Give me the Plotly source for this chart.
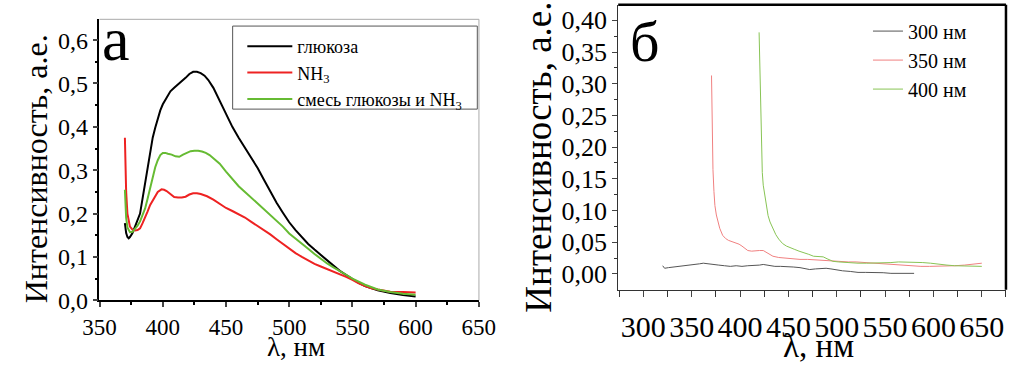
import plotly.graph_objects as go

# ---------- panel а: emission spectra ----------
wl_glucose = [370, 371, 372, 373, 374, 376, 378, 380, 382, 384, 386, 388, 390, 392, 394, 396, 398, 400,
              403, 406, 409, 412, 415, 418, 421, 424, 427, 430, 433, 436, 440, 445, 450, 455, 460, 465,
              470, 475, 480, 485, 490, 495, 500, 505, 510, 515, 520, 525, 530, 535, 540, 545, 550, 555,
              560, 570, 580, 590, 600]
int_glucose = [0.178, 0.155, 0.146, 0.143, 0.146, 0.155, 0.170, 0.185, 0.200, 0.235, 0.270, 0.310, 0.345,
               0.375, 0.398, 0.420, 0.438, 0.452, 0.468, 0.482, 0.490, 0.497, 0.505, 0.513, 0.522, 0.527,
               0.527, 0.524, 0.518, 0.508, 0.490, 0.460, 0.428, 0.400, 0.375, 0.352, 0.330, 0.305, 0.278,
               0.250, 0.225, 0.202, 0.180, 0.162, 0.145, 0.130, 0.117, 0.104, 0.092, 0.080, 0.068, 0.058,
               0.048, 0.040, 0.033, 0.023, 0.017, 0.012, 0.009]

wl_nh3 = [370, 371, 372, 373, 374, 376, 378, 380, 382, 384, 386, 388, 390, 393, 396, 399, 401, 403, 405,
          407, 409, 412, 415, 418, 421, 424, 427, 430, 435, 440, 445, 450, 455, 460, 465, 470, 475, 480,
          485, 490, 495, 500, 505, 510, 515, 520, 525, 530, 535, 540, 545, 550, 555, 560, 565, 570, 575,
          580, 590, 600]
int_nh3 = [0.375, 0.250, 0.200, 0.180, 0.170, 0.163, 0.161, 0.162, 0.166, 0.178, 0.190, 0.205, 0.220,
           0.236, 0.250, 0.256, 0.255, 0.252, 0.248, 0.243, 0.238, 0.237, 0.237, 0.239, 0.244, 0.247,
           0.247, 0.245, 0.240, 0.232, 0.222, 0.213, 0.206, 0.199, 0.191, 0.181, 0.172, 0.161, 0.152,
           0.141, 0.130, 0.119, 0.109, 0.100, 0.092, 0.084, 0.078, 0.072, 0.066, 0.061, 0.054, 0.047,
           0.039, 0.033, 0.028, 0.025, 0.022, 0.020, 0.019, 0.018]

wl_mix = [370, 371, 372, 373, 374, 376, 378, 380, 382, 384, 386, 388, 390, 392, 394, 396, 398, 400, 402,
          404, 407, 410, 413, 416, 419, 422, 425, 428, 431, 434, 437, 440, 445, 450, 455, 460, 465, 470,
          475, 480, 485, 490, 495, 500, 505, 510, 515, 520, 525, 530, 535, 540, 545, 550, 555, 560, 570,
          580, 590, 600]
int_mix = [0.255, 0.190, 0.168, 0.160, 0.157, 0.158, 0.164, 0.172, 0.182, 0.195, 0.212, 0.235, 0.260,
           0.285, 0.307, 0.323, 0.335, 0.340, 0.340, 0.338, 0.336, 0.332, 0.331, 0.336, 0.340, 0.344,
           0.345, 0.345, 0.343, 0.340, 0.335, 0.328, 0.315, 0.297, 0.280, 0.263, 0.250, 0.237, 0.224,
           0.211, 0.198, 0.184, 0.170, 0.154, 0.143, 0.131, 0.119, 0.107, 0.095, 0.085, 0.076, 0.068,
           0.059, 0.050, 0.043, 0.036, 0.025, 0.019, 0.015, 0.013]

# ---------- panel б: spectra at different excitation wavelengths ----------
wl_300 = [320, 322, 326, 332, 340, 346, 352, 358, 362, 366, 372, 378, 384, 390, 396, 402, 408, 414, 420,
          424, 430, 436, 442, 448, 455, 462, 468, 472, 478, 484, 489, 494, 500, 506, 514, 522, 530, 539,
          548, 556, 565, 572, 580]
int_300 = [0.013, 0.009, 0.010, 0.011, 0.012, 0.013, 0.015, 0.016, 0.017, 0.016, 0.015, 0.014, 0.013,
           0.012, 0.013, 0.012, 0.013, 0.013, 0.014, 0.015, 0.013, 0.012, 0.012, 0.011, 0.011, 0.010,
           0.008, 0.007, 0.008, 0.009, 0.009, 0.008, 0.006, 0.005, 0.004, 0.0025, 0.0025, 0.0025, 0.002,
           0.001, 0.001, 0.001, 0.001]

wl_350 = [370.5, 371, 371.5, 372, 373, 374, 375.5, 377, 379, 382, 385, 388, 392, 396, 399, 402, 405, 408,
          412, 416, 420, 424, 427, 430, 434, 440, 446, 455, 462, 470, 479, 487, 496, 504, 512, 520, 529,
          537, 546, 554, 562, 570, 579, 587, 596, 604, 612, 622, 632, 641, 650]
int_350 = [0.313, 0.260, 0.210, 0.165, 0.130, 0.108, 0.093, 0.082, 0.072, 0.061, 0.056, 0.053, 0.051,
           0.049, 0.047, 0.044, 0.040, 0.037, 0.036, 0.037, 0.037, 0.037, 0.034, 0.031, 0.028, 0.026,
           0.025, 0.024, 0.023, 0.023, 0.022, 0.021, 0.020, 0.020, 0.019, 0.019, 0.018, 0.017, 0.016,
           0.015, 0.014, 0.013, 0.012, 0.012, 0.012, 0.012, 0.013, 0.013, 0.014, 0.015, 0.017]

wl_400 = [419.7, 420.3, 421, 421.7, 423, 424, 425.5, 427, 429, 431, 434, 437, 440, 444, 448, 452, 456, 461,
          466, 471, 476, 481, 486, 490, 496, 502, 510, 522, 531, 539, 548, 556, 564, 572, 580, 589, 597,
          606, 614, 622, 630, 639, 650]
int_400 = [0.381, 0.340, 0.280, 0.229, 0.160, 0.140, 0.127, 0.108, 0.092, 0.082, 0.072, 0.062, 0.055,
           0.048, 0.044, 0.041, 0.039, 0.036, 0.034, 0.031, 0.028, 0.028, 0.027, 0.024, 0.020, 0.019,
           0.018, 0.017, 0.017, 0.017, 0.018, 0.018, 0.019, 0.019, 0.018, 0.018, 0.017, 0.016, 0.014,
           0.013, 0.013, 0.012, 0.012]

W, H = 1031, 379
SERIF = "Liberation Serif, Times New Roman, serif"


def px_x(p):
    return p / W


def px_y(p):
    return (H - p) / H


def serif(size):
    return dict(family=SERIF, size=size, color="#000000")


fig = go.Figure()

fig.add_trace(go.Scatter(x=wl_glucose, y=int_glucose, mode="lines", name="глюкоза",
                         line=dict(color="#000000", width=2), xaxis="x", yaxis="y", legend="legend"))
fig.add_trace(go.Scatter(x=wl_nh3, y=int_nh3, mode="lines", name="NH<sub>3</sub>",
                         line=dict(color="#ee2222", width=2), xaxis="x", yaxis="y", legend="legend"))
fig.add_trace(go.Scatter(x=wl_mix, y=int_mix, mode="lines", name="смесь глюкозы и NH<sub>3</sub>",
                         line=dict(color="#66bb33", width=2), xaxis="x", yaxis="y", legend="legend"))

fig.add_trace(go.Scatter(x=wl_300, y=int_300, mode="lines", name="300 нм",
                         line=dict(color="#555555", width=1), xaxis="x2", yaxis="y2", legend="legend2"))
fig.add_trace(go.Scatter(x=wl_350, y=int_350, mode="lines", name="350 нм",
                         line=dict(color="#f08080", width=1), xaxis="x2", yaxis="y2", legend="legend2"))
fig.add_trace(go.Scatter(x=wl_400, y=int_400, mode="lines", name="400 нм",
                         line=dict(color="#88c455", width=1), xaxis="x2", yaxis="y2", legend="legend2"))

axis_common = dict(showgrid=False, zeroline=False, ticks="outside", showline=True)

fig.update_layout(
    width=W, height=H,
    margin=dict(l=0, r=0, t=0, b=0),
    paper_bgcolor="white", plot_bgcolor="white",
    separators=", ",
    font=serif(18),
    xaxis=dict(**axis_common, domain=[px_x(85.3), px_x(477.7)], range=[349.9, 650.1],
               dtick=50, tick0=350, ticklen=5, tickwidth=1.5, linecolor="#000000", linewidth=1.5,
               tickfont=serif(23), anchor="y",
               minor=dict(dtick=25, tick0=350, ticks="outside", ticklen=3, tickcolor="#000000")),
    yaxis=dict(**axis_common, domain=[px_y(311), px_y(20)], range=[0, 0.648],
               dtick=0.1, tick0=0, tickformat=".1f", ticklen=5, tickwidth=1.5, linecolor="#000000",
               linewidth=1.5, tickfont=serif(24), anchor="x",
               minor=dict(dtick=0.05, tick0=0, ticks="outside", ticklen=3, tickcolor="#000000")),
    xaxis2=dict(**axis_common, domain=[px_x(621.7), px_x(1022.7)], range=[274, 675],
                dtick=50, tick0=300, ticklen=6, tickwidth=1.2, linecolor="#333333", linewidth=1.2,
                tickfont=serif(30), anchor="y2", ticklabelstandoff=4,
                minor=dict(dtick=25, tick0=300, ticks="outside", ticklen=6, tickcolor="#333333")),
    yaxis2=dict(**axis_common, domain=[px_y(300), px_y(5)], range=[-0.0248, 0.4244],
                dtick=0.05, tick0=0, tickformat=".2f", ticklen=5, tickwidth=1.2, linecolor="#333333",
                linewidth=1.2, tickfont=serif(26), anchor="x2",
                minor=dict(dtick=0.025, tick0=0, ticks="outside", ticklen=3, tickcolor="#333333")),
    legend=dict(x=px_x(233), y=px_y(29), xanchor="left", yanchor="top",
                bgcolor="rgba(0,0,0,0)", borderwidth=0,
                font=serif(18), tracegroupgap=0, itemwidth=45),
    legend2=dict(x=px_x(880), y=px_y(12), xanchor="left", yanchor="top",
                 bgcolor="rgba(0,0,0,0)", borderwidth=0,
                 font=serif(20), tracegroupgap=0),
    showlegend=True,
)

# legend frame of panel а
fig.add_shape(type="rect", xref="paper", yref="paper",
              x0=px_x(223), x1=px_x(476), y0=px_y(113), y1=px_y(27),
              line=dict(color="#555555", width=1), fillcolor="white", layer="below")

# frame lines: thin grey top/right on panel а, heavy black top/right on panel б
fig.add_shape(type="line", xref="x domain", yref="y domain", x0=0, x1=1, y0=1, y1=1,
              line=dict(color="#aaaaaa", width=1))
fig.add_shape(type="line", xref="x domain", yref="y domain", x0=1, x1=1, y0=0, y1=1,
              line=dict(color="#aaaaaa", width=1))
fig.add_shape(type="line", xref="x2 domain", yref="y2 domain", x0=0, x1=1, y0=1, y1=1,
              line=dict(color="#000000", width=2.5))
fig.add_shape(type="line", xref="x2 domain", yref="y2 domain", x0=1, x1=1, y0=0, y1=1,
              line=dict(color="#000000", width=2.5))

# axis titles and panel letters
labels = [
    ("Интенсивность, а.е.", 20, 175, -90, 32),
    ("λ, нм", 288, 359, 0, 27),
    ("Интенсивность, а.е.", 539, 163, -90, 37),
    ("λ, нм", 829, 358, 0, 33),
    ("а", 102, 40, 0, 62),
    ("б", 649, 43, 0, 58),
]
for text, px, py, angle, size in labels:
    fig.add_annotation(xref="paper", yref="paper", x=px_x(px), y=px_y(py), text=text,
                       textangle=angle, showarrow=False, xanchor="center", yanchor="middle",
                       font=serif(size))

fig.write_html("out.html")
